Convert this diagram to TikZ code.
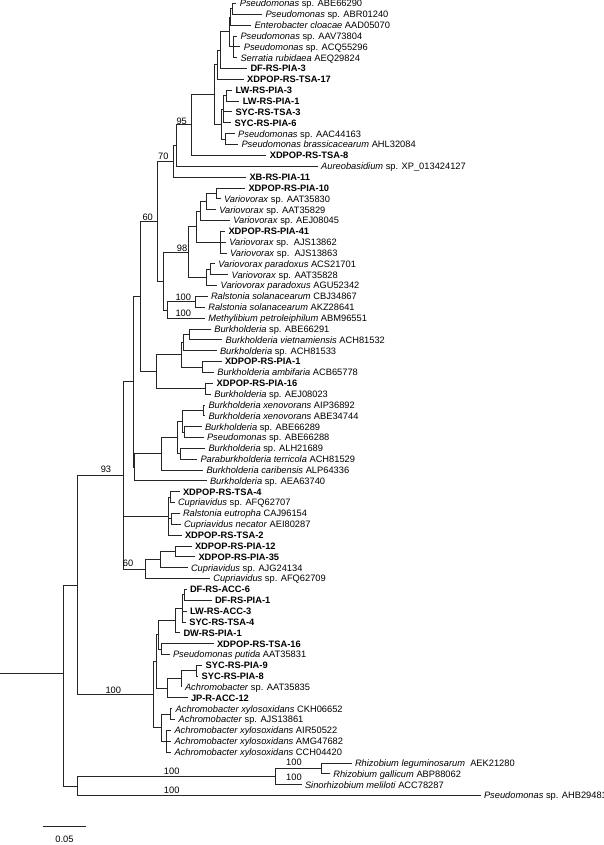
\documentclass[tikz,border=0pt]{standalone}
\usepackage{fontspec}
\setmainfont{Liberation Sans}

\begin{document}
\begin{tikzpicture}[x=1pt, y=-1pt, line width=1pt, draw=black!85,
	every node/.style={font=\fontsize{9.3}{11}\selectfont},
	sp/.style={anchor=west, inner xsep=3pt, inner ysep=0pt, text height=6.7pt, text depth=0pt},
	iso/.style={sp, font=\fontsize{9.3}{11}\selectfont\bfseries},
	bs/.style={inner sep=0pt, text height=6.7pt, text depth=0pt}]
	\useasboundingbox (0,0) rectangle (604,845);
	% internal nodes
	\coordinate (n12) at (232.3,8.95);
	\coordinate (n123) at (230.5,17.1);
	\coordinate (n456) at (233.3,46.9);
	\coordinate (q2) at (229,32.0);
	\coordinate (q1) at (220,50.3);
	\coordinate (q) at (217.7,64.9);
	\coordinate (s1) at (226.7,95.75);
	\coordinate (s2) at (223.3,109.3);
	\coordinate (s3) at (225,139.15);
	\coordinate (s) at (221.7,124.2);
	\coordinate (p) at (214.3,94.6);
	\coordinate (n95) at (191.7,125.0);
	\coordinate (naur) at (176,145.6);
	\coordinate (n70) at (173.3,161.4);
	\coordinate (v1) at (216.7,193.4);
	\coordinate (v2) at (206,201.55);
	\coordinate (v3) at (200.7,211.0);
	\coordinate (v5) at (220.7,242.2);
	\coordinate (v4) at (196,226.6);
	\coordinate (v6a) at (210.7,269.35);
	\coordinate (v6) at (206,277.5);
	\coordinate (n98) at (188.3,252.05);
	\coordinate (rn) at (195.7,301.9);
	\coordinate (rm) at (167.3,310.05);
	\coordinate (vr) at (163.3,281.05);
	\coordinate (n60) at (157,221.2);
	\coordinate (b1) at (189,334.45);
	\coordinate (b2) at (183.5,342.6);
	\coordinate (b4) at (202,367);
	\coordinate (b3) at (181,354.8);
	\coordinate (b5) at (205,388.7);
	\coordinate (bh) at (156.7,371.75);
	\coordinate (nd) at (140,296.5);
	\coordinate (x3839) at (203.5,410.4);
	\coordinate (x4041) at (184,432.1);
	\coordinate (x3841) at (182,421.25);
	\coordinate (e2) at (180,453.8);
	\coordinate (e1) at (177.5,437.5);
	\coordinate (e3) at (161,453.8);
	\coordinate (ne) at (134.5,467.35);
	\coordinate (ndd) at (133,381.9);
	\coordinate (c1) at (170,497.2);
	\coordinate (c2) at (171.7,518.9);
	\coordinate (ctop) at (168.3,516.2);
	\coordinate (c51) at (175,551.45);
	\coordinate (c53) at (160,559.6);
	\coordinate (c54) at (145,569.1);
	\coordinate (nb) at (123.3,475.5);
	\coordinate (a1) at (184,594.85);
	\coordinate (a2) at (182,608.4);
	\coordinate (a3) at (175.7,620.6);
	\coordinate (a4) at (161.7,649.1);
	\coordinate (a5) at (158.5,634.85);
	\coordinate (a6) at (196,670.8);
	\coordinate (a7) at (181.5,678.95);
	\coordinate (a8) at (167.7,688.4);
	\coordinate (atop) at (156.7,661.6);
	\coordinate (x1) at (170,714.2);
	\coordinate (x2) at (166.7,741.3);
	\coordinate (x3) at (161,727.75);
	\coordinate (nc) at (153.3,694.7);
	\coordinate (na) at (77.7,585.1);
	\coordinate (z2) at (321.7,768.45);
	\coordinate (z1) at (275,776.6);
	\coordinate (nz) at (77.7,786.1);
	\coordinate (root) at (63.3,673.3);
	\coordinate (r0) at (0,673.3);
	% leaves
	\node[sp] (ABE66290) at (236.3,3.5) {\textit{Pseudomonas} sp. ABE66290};
	\node[sp] (ABR01240) at (262,14.4) {\textit{Pseudomonas} sp. ABR01240};
	\node[sp] (AAD05070) at (251,25.2) {\textit{Enterobacter cloacae} AAD05070};
	\node[sp] (AAV73804) at (237,36.1) {\textit{Pseudomonas} sp. AAV73804};
	\node[sp] (ACQ55296) at (240.3,46.9) {\textit{Pseudomonas} sp. ACQ55296};
	\node[sp] (AEQ29824) at (237,57.8) {\textit{Serratia rubidaea} AEQ29824};
	\node[iso] (DFRSPIA3) at (247,68.6) {DF-RS-PIA-3};
	\node[iso] (XDPOPRSTSA17) at (243.7,79.5) {XDPOP-RS-TSA-17};
	\node[iso] (LWRSPIA3) at (232,90.3) {LW-RS-PIA-3};
	\node[iso] (LWRSPIA1) at (239.3,101.2) {LW-RS-PIA-1};
	\node[iso] (SYCRSTSA3) at (232,112.0) {SYC-RS-TSA-3};
	\node[iso] (SYCRSPIA6) at (231,122.9) {SYC-RS-PIA-6};
	\node[sp] (AAC44163) at (234.7,133.7) {\textit{Pseudomonas} sp. AAC44163};
	\node[sp] (AHL32084) at (238,144.6) {\textit{Pseudomonas brassicacearum} AHL32084};
	\node[iso] (XDPOPRSTSA8) at (266.3,155.4) {XDPOP-RS-TSA-8};
	\node[sp] (XP013424127) at (317.7,166.3) {\textit{Aureobasidium} sp. XP\_013424127};
	\node[iso] (XBRSPIA11) at (246,177.1) {XB-RS-PIA-11};
	\node[iso] (XDPOPRSPIA10) at (245,188.0) {XDPOP-RS-PIA-10};
	\node[sp] (AAT35830) at (220.5,198.8) {\textit{Variovorax} sp. AAT35830};
	\node[sp] (AAT35829) at (215.8,209.7) {\textit{Variovorax} sp. AAT35829};
	\node[sp] (AEJ08045) at (229.8,220.5) {\textit{Variovorax} sp. AEJ08045};
	\node[iso] (XDPOPRSPIA41) at (225,231.4) {XDPOP-RS-PIA-41};
	\node[sp] (AJS13862) at (225.8,242.2) {\textit{Variovorax} sp.\ \ AJS13862};
	\node[sp] (AJS13863) at (226.5,253.1) {\textit{Variovorax} sp.\ \ AJS13863};
	\node[sp] (ACS21701) at (214.8,263.9) {\textit{Variovorax paradoxus} ACS21701};
	\node[sp] (AAT35828) at (228.2,274.8) {\textit{Variovorax} sp. AAT35828};
	\node[sp] (AGU52342) at (217.2,285.6) {\textit{Variovorax paradoxus} AGU52342};
	\node[sp] (CBJ34867) at (207.5,296.5) {\textit{Ralstonia solanacearum} CBJ34867};
	\node[sp] (AKZ28641) at (204.8,307.3) {\textit{Ralstonia solanacearum} AKZ28641};
	\node[sp] (ABM96551) at (204.8,318.2) {\textit{Methylibium petroleiphilum} ABM96551};
	\node[sp] (ABE66291) at (210.8,329.0) {\textit{Burkholderia} sp. ABE66291};
	\node[sp] (ACH81532) at (222.2,339.9) {\textit{Burkholderia vietnamiensis} ACH81532};
	\node[sp] (ACH81533) at (216.5,350.7) {\textit{Burkholderia} sp. ACH81533};
	\node[iso] (XDPOPRSPIA1) at (221.5,361.6) {XDPOP-RS-PIA-1};
	\node[sp] (ACB65778) at (213.8,372.4) {\textit{Burkholderia ambifaria} ACB65778};
	\node[iso] (XDPOPRSPIA16) at (213.2,383.3) {XDPOP-RS-PIA-16};
	\node[sp] (AEJ08023) at (210.8,394.1) {\textit{Burkholderia} sp. AEJ08023};
	\node[sp] (AIP36892) at (205,405.0) {\textit{Burkholderia xenovorans} AIP36892};
	\node[sp] (ABE34744) at (205,415.8) {\textit{Burkholderia xenovorans} ABE34744};
	\node[sp] (ABE66289) at (201.5,426.7) {\textit{Burkholderia} sp. ABE66289};
	\node[sp] (ABE66288) at (203.5,437.5) {\textit{Pseudomonas} sp. ABE66288};
	\node[sp] (ALH21689) at (205,448.4) {\textit{Burkholderia} sp. ALH21689};
	\node[sp] (ACH81529) at (197,459.2) {\textit{Paraburkholderia terricola} ACH81529};
	\node[sp] (ALP64336) at (203,470.1) {\textit{Burkholderia caribensis} ALP64336};
	\node[sp] (AEA63740) at (206.5,480.9) {\textit{Burkholderia} sp. AEA63740};
	\node[iso] (XDPOPRSTSA4) at (179.5,491.8) {XDPOP-RS-TSA-4};
	\node[sp] (AFQ62707) at (174.5,502.6) {\textit{Cupriavidus} sp. AFQ62707};
	\node[sp] (CAJ96154) at (179.5,513.5) {\textit{Ralstonia eutropha} CAJ96154};
	\node[sp] (AEI80287) at (180.5,524.3) {\textit{Cupriavidus necator} AEI80287};
	\node[iso] (XDPOPRSTSA2) at (181.5,535.2) {XDPOP-RS-TSA-2};
	\node[iso] (XDPOPRSPIA12) at (191.5,546.0) {XDPOP-RS-PIA-12};
	\node[iso] (XDPOPRSPIA35) at (195,556.9) {XDPOP-RS-PIA-35};
	\node[sp] (AJG24134) at (187.5,567.7) {\textit{Cupriavidus} sp. AJG24134};
	\node[sp] (AFQ62709) at (209.8,578.6) {\textit{Cupriavidus} sp. AFQ62709};
	\node[iso] (DFRSACC6) at (186.5,589.4) {DF-RS-ACC-6};
	\node[iso] (DFRSPIA1) at (211.5,600.3) {DF-RS-PIA-1};
	\node[iso] (LWRSACC3) at (186.5,611.1) {LW-RS-ACC-3};
	\node[iso] (SYCRSTSA4) at (185.8,622.0) {SYC-RS-TSA-4};
	\node[iso] (DWRSPIA1) at (180,632.8) {DW-RS-PIA-1};
	\node[iso] (XDPOPRSTSA16) at (213.5,643.7) {XDPOP-RS-TSA-16};
	\node[sp] (AAT35831) at (169.5,654.5) {\textit{Pseudomonas putida} AAT35831};
	\node[iso] (SYCRSPIA9) at (202.2,665.4) {SYC-RS-PIA-9};
	\node[iso] (SYCRSPIA8) at (198.2,676.2) {SYC-RS-PIA-8};
	\node[sp] (AAT35835) at (181.5,687.1) {\textit{Achromobacter} sp. AAT35835};
	\node[iso] (JPRACC12) at (187.5,697.9) {JP-R-ACC-12};
	\node[sp] (CKH06652) at (172.2,708.8) {\textit{Achromobacter xylosoxidans} CKH06652};
	\node[sp] (AJS13861) at (175.2,719.6) {\textit{Achromobacter} sp. AJS13861};
	\node[sp] (AIR50522) at (171,730.5) {\textit{Achromobacter xylosoxidans} AIR50522};
	\node[sp] (AMG47682) at (171,741.3) {\textit{Achromobacter xylosoxidans} AMG47682};
	\node[sp] (CCH04420) at (171,752.2) {\textit{Achromobacter xylosoxidans} CCH04420};
	\node[sp] (AEK21280) at (351.5,763.0) {\textit{Rhizobium leguminosarum}\ \ AEK21280};
	\node[sp] (ABP88062) at (329.8,773.9) {\textit{Rhizobium gallicum} ABP88062};
	\node[sp] (ACC78287) at (301.5,784.7) {\textit{Sinorhizobium meliloti} ACC78287};
	\node[sp] (AHB29481) at (480.5,795.6) {\textit{Pseudomonas} sp. AHB29481};
	% branches
	\draw (n12) |- (ABE66290) (n12) |- (ABR01240);
	\draw (n123) |- (n12) (n123) |- (AAD05070);
	\draw (n456) |- (AAV73804) (n456) |- (ACQ55296) (n456) |- (AEQ29824);
	\draw (q2) |- (n123) (q2) |- (n456);
	\draw (q1) |- (q2) (q1) |- (DFRSPIA3);
	\draw (q) |- (q1) (q) |- (XDPOPRSTSA17);
	\draw (s1) |- (LWRSPIA3) (s1) |- (LWRSPIA1);
	\draw (s2) |- (s1) (s2) |- (SYCRSTSA3) (s2) |- (SYCRSPIA6);
	\draw (s3) |- (AAC44163) (s3) |- (AHL32084);
	\draw (s) |- (s2) (s) |- (s3);
	\draw (p) |- (q) (p) |- (s);
	\draw (n95) |- (p) (n95) |- (XDPOPRSTSA8);
	\draw (naur) |- (n95) (naur) |- (XP013424127);
	\draw (n70) |- (naur) (n70) |- (XBRSPIA11);
	\draw (v1) |- (XDPOPRSPIA10) (v1) |- (AAT35830);
	\draw (v2) |- (v1) (v2) |- (AAT35829);
	\draw (v3) |- (v2) (v3) |- (AEJ08045);
	\draw (v5) |- (XDPOPRSPIA41) (v5) |- (AJS13862) (v5) |- (AJS13863);
	\draw (v4) |- (v3) (v4) |- (v5);
	\draw (v6a) |- (ACS21701) (v6a) |- (AAT35828);
	\draw (v6) |- (v6a) (v6) |- (AGU52342);
	\draw (n98) |- (v4) (n98) |- (v6);
	\draw (rn) |- (CBJ34867) (rn) |- (AKZ28641);
	\draw (rm) |- (rn) (rm) |- (ABM96551);
	\draw (vr) |- (n98) (vr) |- (rm);
	\draw (n60) |- (n70) (n60) |- (vr);
	\draw (b1) |- (ABE66291) (b1) |- (ACH81532);
	\draw (b2) |- (b1) (b2) |- (ACH81533);
	\draw (b4) |- (XDPOPRSPIA1) (b4) |- (ACB65778);
	\draw (b3) |- (b2) (b3) |- (b4);
	\draw (b5) |- (XDPOPRSPIA16) (b5) |- (AEJ08023);
	\draw (bh) |- (b3) (bh) |- (b5);
	\draw (nd) |- (n60) (nd) |- (bh);
	\draw (x3839) |- (AIP36892) (x3839) |- (ABE34744);
	\draw (x4041) |- (ABE66289) (x4041) |- (ABE66288);
	\draw (x3841) |- (x3839) (x3841) |- (x4041);
	\draw (e2) |- (ALH21689) (e2) |- (ACH81529);
	\draw (e1) |- (x3841) (e1) |- (e2);
	\draw (e3) |- (e1) (e3) |- (ALP64336);
	\draw (ne) |- (e3) (ne) |- (AEA63740);
	\draw (ndd) |- (nd) (ndd) |- (ne);
	\draw (c1) |- (XDPOPRSTSA4) (c1) |- (AFQ62707);
	\draw (c2) |- (CAJ96154) (c2) |- (AEI80287);
	\draw (ctop) |- (c1) (ctop) |- (c2) (ctop) |- (XDPOPRSTSA2);
	\draw (c51) |- (XDPOPRSPIA12) (c51) |- (XDPOPRSPIA35);
	\draw (c53) |- (c51) (c53) |- (AJG24134);
	\draw (c54) |- (c53) (c54) |- (AFQ62709);
	\draw (nb) |- (ndd) (nb) |- (ctop) (nb) |- (c54);
	\draw (a1) |- (DFRSACC6) (a1) |- (DFRSPIA1);
	\draw (a2) |- (a1) (a2) |- (LWRSACC3) (a2) |- (SYCRSTSA4);
	\draw (a3) |- (a2) (a3) |- (DWRSPIA1);
	\draw (a4) |- (XDPOPRSTSA16) (a4) |- (AAT35831);
	\draw (a5) |- (a3) (a5) |- (a4);
	\draw (a6) |- (SYCRSPIA9) (a6) |- (SYCRSPIA8);
	\draw (a7) |- (a6) (a7) |- (AAT35835);
	\draw (a8) |- (a7) (a8) |- (JPRACC12);
	\draw (atop) |- (a5) (atop) |- (a8);
	\draw (x1) |- (CKH06652) (x1) |- (AJS13861);
	\draw (x2) |- (AIR50522) (x2) |- (AMG47682) (x2) |- (CCH04420);
	\draw (x3) |- (x1) (x3) |- (x2);
	\draw (nc) |- (atop) (nc) |- (x3);
	\draw (na) |- (nb) (na) |- (nc);
	\draw (z2) |- (AEK21280) (z2) |- (ABP88062);
	\draw (z1) |- (z2) (z1) |- (ACC78287);
	\draw (nz) |- (z1) (nz) |- (AHB29481);
	\draw (root) |- (na) (root) |- (nz);
	\draw (r0) -- (root);
	% bootstrap values
	\node[bs] (bs95) at (181.7,121) {95};
	\node[bs] (bs70) at (163.3,156) {70};
	\node[bs] (bs60a) at (147.7,217) {60};
	\node[bs] (bs98) at (182,248.5) {98};
	\node[bs] (bs100a) at (183.3,297.5) {100};
	\node[bs] (bs100b) at (183.3,312.7) {100};
	\node[bs] (bs93) at (106,469) {93};
	\node[bs] (bs60b) at (128,563) {60};
	\node[bs] (bs100c) at (113.3,690) {100};
	\node[bs] (bs100d) at (171.7,771) {100};
	\node[bs] (bs100e) at (171.7,790) {100};
	\node[bs] (bs100f) at (294,761.7) {100};
	\node[bs] (bs100g) at (294,777.3) {100};
	% scale
	\coordinate (sb1) at (43,826.7);
	\coordinate (sb2) at (86,826.7);
	\draw (sb1) -- (sb2);
	\node[bs] (sbl) at (64.5,839.5) {0.05};
\end{tikzpicture}
\end{document}
